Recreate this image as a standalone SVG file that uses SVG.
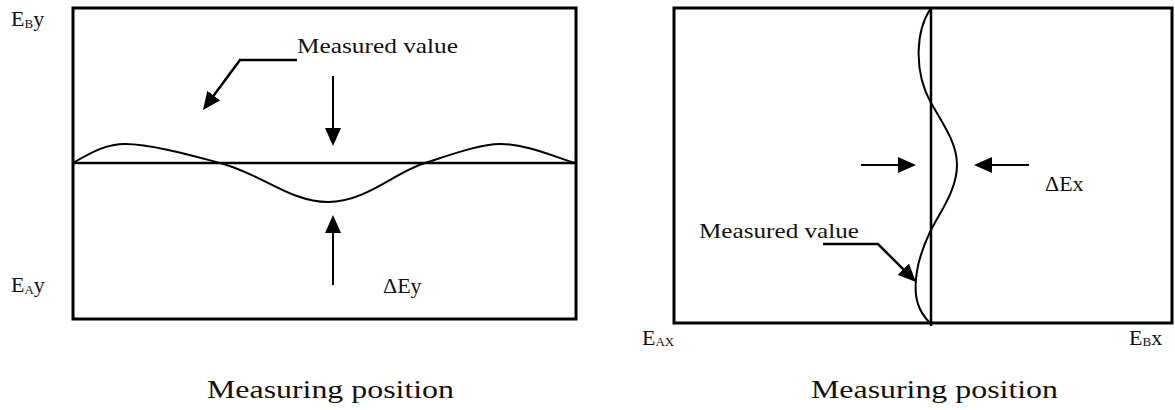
<svg xmlns="http://www.w3.org/2000/svg" width="1175" height="410" viewBox="0 0 1175 410">
  <style>
    .frame { fill: none; stroke: #000; stroke-width: 3; }
    .axis { fill: none; stroke: #000; stroke-width: 2.5; }
    .wave { fill: none; stroke: #000; stroke-width: 2; }
    .arr { fill: none; stroke: #000; stroke-width: 2; marker-end: url(#ah); }
    .lead { fill: none; stroke: #000; stroke-width: 2.5; stroke-linejoin: miter; marker-end: url(#ah); }
    text { font-family: "Liberation Serif", "Times New Roman", serif; fill: #111; }
    .lbl { font-size: 22px; }
    .sub { font-size: 13px; }
    .cap { font-size: 26px; }
  </style>
  <defs>
    <marker id="ah" viewBox="0 0 18 16" markerWidth="18" markerHeight="16" refX="14" refY="8" orient="auto" markerUnits="userSpaceOnUse">
      <path d="M0,0 L18,8 L0,16 z" fill="#000"/>
    </marker>
  </defs>

  <g id="left-plot">
    <rect class="frame" x="73" y="8" width="503" height="311"/>
    <line class="axis" x1="73" y1="163" x2="576" y2="163"/>
    <path class="wave" d="M73,163 C95,150 108,144 125,144 C150,144 190,155 220,163 C262,174 290,202 328,202 C366,202 395,172 425,163 C450,155 480,144 500,144 C525,144 550,155 575,163"/>
  </g>

  <g id="right-plot">
    <rect class="frame" x="674" y="8" width="498" height="315"/>
    <line class="axis" x1="931" y1="8" x2="931" y2="326"/>
    <path class="wave" d="M931,8 C916,30 913,70 931,103 C946,128 957,145 957,165 C957,190 940,212 930,232 C919,255 914,275 916,295 C918,310 925,318 931,324"/>
  </g>

  <g id="connectors">
    <path class="lead" d="M297,60 L240,60 L205.4,106.8"/>
    <line class="arr" x1="333" y1="76" x2="333" y2="142"/>
    <line class="arr" x1="333" y1="285" x2="333" y2="219"/>
    <line class="arr" x1="861" y1="165" x2="912" y2="165"/>
    <line class="arr" x1="1029" y1="165" x2="978" y2="165"/>
    <path class="lead" d="M823,244 L878,244 L913.2,279.2"/>
  </g>

  <g id="labels-left">
    <text class="lbl" x="11" y="26">E<tspan class="sub" dy="2">B</tspan><tspan dy="-2">y</tspan></text>
    <text class="lbl" x="11" y="292">E<tspan class="sub" dy="2">A</tspan><tspan dy="-2">y</tspan></text>
    <text class="lbl" x="297" y="53" textLength="161" lengthAdjust="spacingAndGlyphs">Measured value</text>
    <text class="lbl" x="383" y="293">ΔEy</text>
    <text class="cap" x="207" y="398" textLength="247" lengthAdjust="spacingAndGlyphs">Measuring position</text>
  </g>

  <g id="labels-right">
    <text class="lbl" x="699" y="238" textLength="160" lengthAdjust="spacingAndGlyphs">Measured value</text>
    <text class="lbl" x="1045" y="191">ΔEx</text>
    <text class="lbl" x="642" y="345">E<tspan class="sub" dy="1">AX</tspan></text>
    <text class="lbl" x="1129" y="345">E<tspan class="sub" dy="1">B</tspan><tspan dy="-1">x</tspan></text>
    <text class="cap" x="811" y="398" textLength="247" lengthAdjust="spacingAndGlyphs">Measuring position</text>
  </g>
</svg>
